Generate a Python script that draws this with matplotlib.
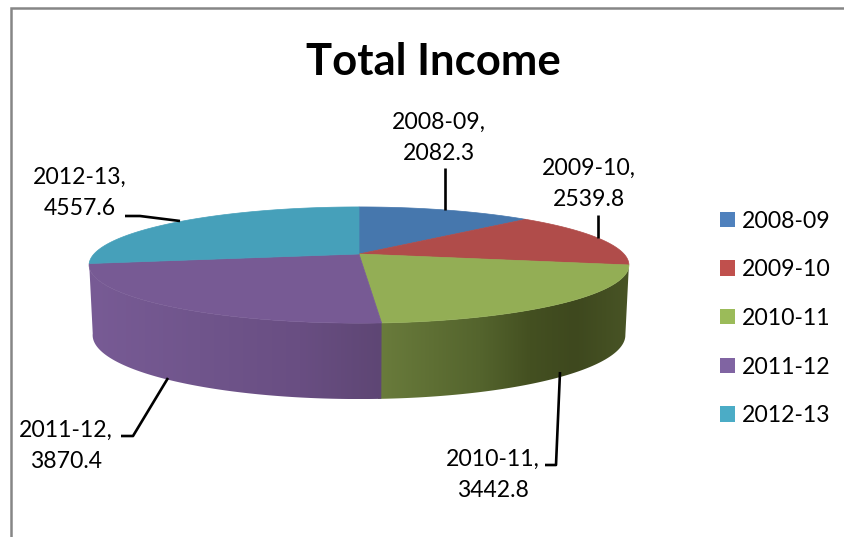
import numpy as np
import matplotlib
matplotlib.use("Agg")
import matplotlib.pyplot as plt
from matplotlib.patches import Patch, Polygon

plt.rcParams['font.family'] = ['Lato', 'DejaVu Sans']

years = ['2008-09', '2009-10', '2010-11', '2011-12', '2012-13']
income = [2082.3, 2539.8, 3442.8, 3870.4, 4557.6]

legend_colors = ['#4f81bd', '#c0504d', '#9bbb59', '#8064a2', '#4bacc6']
top_colors = ['#4677ad', '#b04c4a', '#93ae55', '#775a94', '#46a0ba']

# tilted disc, drawn in pixel units of the figure
CX = 359
KEEN = 0.19
TOP = (254, 265, 56)
BOTTOM = (323, 261.5, 61.6)


def rim(theta, disc):
    """Project angles (clockwise from twelve o'clock) onto a tilted disc."""
    y0, a, b = disc
    t = np.radians(theta)
    w = 1 + KEEN * np.cos(t)
    return CX + a * np.sin(t) / w, y0 - b * np.cos(t) / w


def arc(start, end):
    return np.linspace(start, end, max(int(abs(end - start) * 2), 2))


def draw_wall(ax, start, end, stops):
    """Outer wall of a slice, shaded left to right through the colour stops."""
    t = arc(start, end)
    xt, yt = rim(t, TOP)
    xb, yb = rim(t, BOTTOM)
    pts = np.column_stack([np.r_[xt, xb[::-1]], np.r_[yt, yb[::-1]]])
    x0, x1 = pts[:, 0].min(), pts[:, 0].max()
    y0, y1 = pts[:, 1].min(), pts[:, 1].max()
    xs = np.linspace(x0, x1, 300)
    px = [s[0] for s in stops]
    shade = np.stack([np.interp(xs, px, [s[1][c] for s in stops]) for c in range(3)], axis=-1) / 255
    im = ax.imshow(shade[np.newaxis, :, :], extent=(x0, x1, y1, y0), aspect='auto', zorder=1)
    im.set_clip_path(Polygon(pts, closed=True, transform=ax.transData))


fig = plt.figure(figsize=(8.45, 5.37), dpi=100)
ax = fig.add_axes([0, 0, 1, 1])

edges = np.r_[0, np.cumsum(income)] / np.sum(income) * 360

# green runs slightly past its edge so no gap shows under the purple wall
draw_wall(ax, edges[2], edges[3] + 0.6, [(378, (106, 124, 60)), (480, (84, 100, 45)), (530, (68, 80, 33)),
                                         (575, (62, 72, 30)), (629, (72, 84, 37))])
draw_wall(ax, edges[3], edges[4], [(89, (120, 91, 149)), (200, (112, 85, 140)),
                                   (300, (105, 78, 130)), (382, (94, 70, 116))])

for i, color in enumerate(top_colors):
    x, y = rim(arc(edges[i], edges[i + 1]), TOP)
    ax.fill(np.r_[CX, x], np.r_[TOP[0], y], facecolor=color, edgecolor=color, lw=0.5, zorder=2)

ax.set_xlim(0, 845)
ax.set_ylim(537, 0)
ax.axis('off')

# chart frame, open at the right and bottom edges
ax.plot([11, 11, 845], [537, 8, 8], color='#868686', lw=1.8, solid_joinstyle='miter', zorder=0)

ax.text(433, 62, 'Total Income', fontsize=31.4, fontweight='bold', ha='center', va='center', color='black')

label_spots = [(439, 138), (589, 184), (493, 475), (66, 446), (80, 193)]
for name, value, (lx, ly) in zip(years, income, label_spots):
    ax.text(lx, ly, f'{name},\n{value}', fontsize=16.6, ha='center', va='center',
            linespacing=1.62, color='black', zorder=4)

leaders = [
    ([445, 445], [168, 210]),
    ([598, 598], [215, 238]),
    ([560, 556, 545], [372, 465, 465]),
    ([168, 133, 121], [378, 436, 436]),
    ([125, 140, 180], [216, 216, 221]),
]
for lx, ly in leaders:
    ax.plot(lx, ly, color='black', lw=1.9, solid_capstyle='butt', zorder=3)

handles = [Patch(facecolor=c, edgecolor='none') for c in legend_colors]
ax.legend(handles, years, loc='upper left', bbox_to_anchor=(0.852, 0.608), frameon=False,
          fontsize=16.6, handlelength=0.65, handleheight=0.65, handletextpad=0.3,
          labelspacing=1.2, borderpad=0, borderaxespad=0)

fig.savefig('out.png', dpi=100)
